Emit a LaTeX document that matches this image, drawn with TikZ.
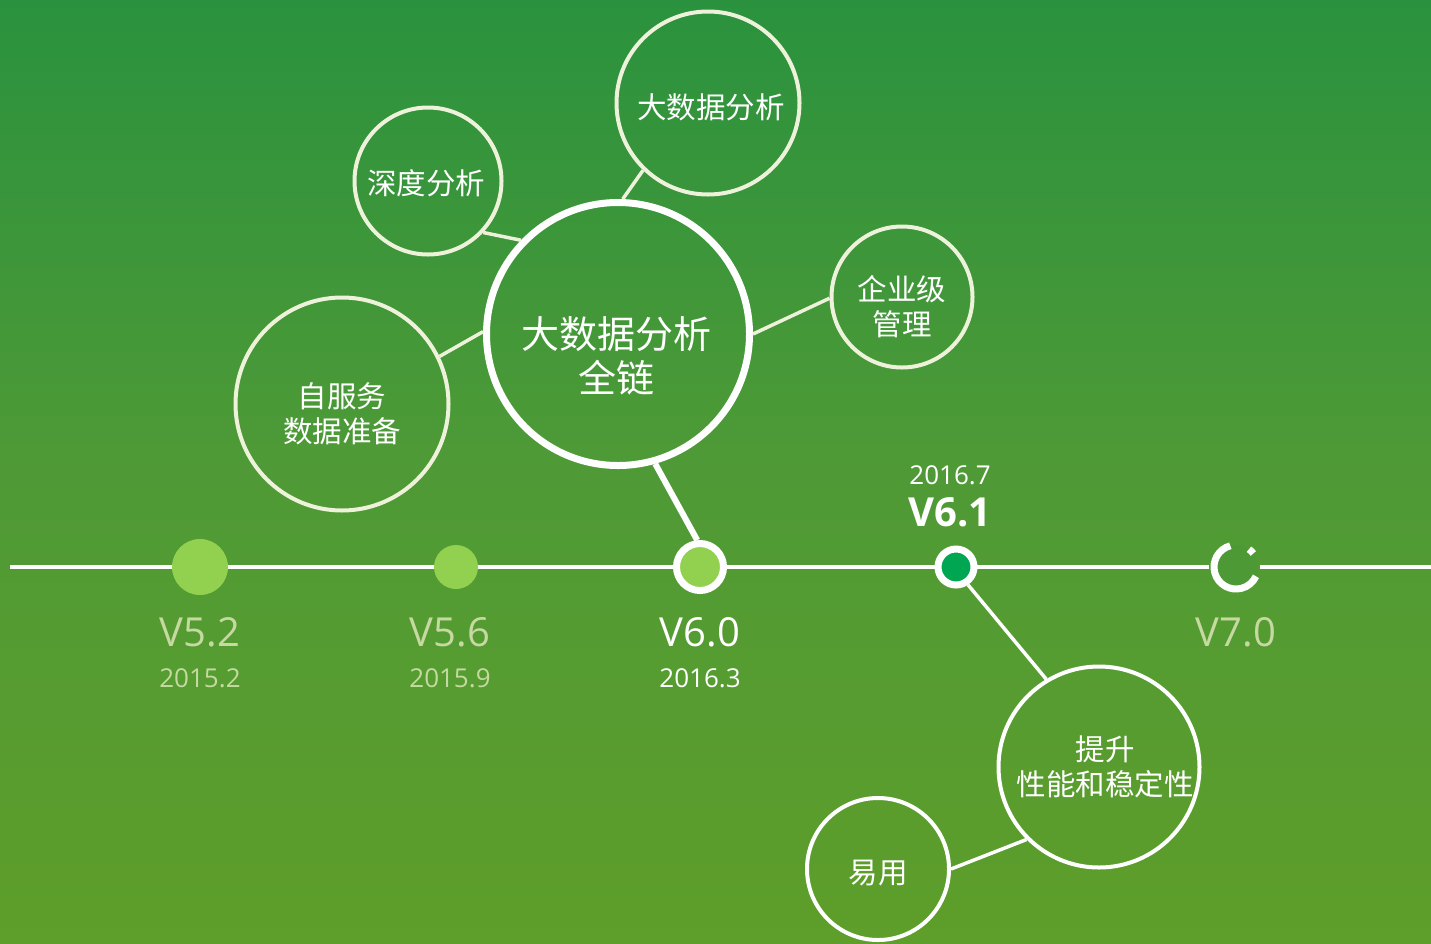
\documentclass[tikz,border=0pt]{standalone}
\usepackage{fontspec}
\setmainfont{Open Sans}
\newfontfamily\cjk{Noto Sans CJK SC}
\definecolor{bgtop}{HTML}{2A923E}
\definecolor{bgmid}{HTML}{4F9A36}
\definecolor{bgbot}{HTML}{5E9E2A}
\definecolor{offw}{HTML}{EEF2DA}
\definecolor{pale}{HTML}{C5D9A0}
\definecolor{lgreen}{HTML}{92D050}
\definecolor{dgreen}{HTML}{00A651}
\definecolor{ringbg}{HTML}{4C9936}
\begin{document}
\begin{tikzpicture}[x=1pt,y=-1pt,
  bub/.style={circle, draw=offw, line width=4pt, inner sep=0pt},
  wbub/.style={circle, draw=white, line width=4pt, inner sep=0pt},
  ctext/.style={text=white, font=\cjk\fontsize{29.5}{35}\selectfont, align=center, inner sep=0pt},
  btext/.style={text=white, font=\cjk\fontsize{38}{44}\selectfont, align=center, inner sep=0pt},
  conn/.style={draw=offw, line width=3.5pt},
  wconn/.style={draw=white, line width=3.5pt},
  ver/.style={font=\fontsize{40}{44}\selectfont, inner sep=0pt},
  date/.style={font=\fontsize{26}{30}\selectfont, inner sep=0pt},
  tl/.style={draw=white, line width=4pt}]
\shade[top color=bgtop, bottom color=bgbot, middle color=bgmid] (0,0) rectangle (1431,943);
\useasboundingbox (0,0) rectangle (1431,943);

% timeline
\coordinate (tlL) at (10,567);
\coordinate (tlR) at (1431,567);
\coordinate (r7L) at (1209,567);
\coordinate (r7R) at (1260,567);
\draw[tl] (tlL) -- (r7L);
\draw[tl] (r7R) -- (tlR);

% version dots
\node[circle, fill=lgreen, minimum size=56pt, inner sep=0pt] (v52) at (200,567) {};
\node[circle, fill=lgreen, minimum size=44pt, inner sep=0pt] (v56) at (456,567) {};
\node[circle, fill=lgreen, draw=white, line width=7pt, minimum size=47pt, inner sep=0pt] (v60) at (700,567) {};
\node[circle, fill=dgreen, draw=white, line width=7pt, minimum size=36pt, inner sep=0pt] (v61) at (956,567) {};
\node[circle, fill=ringbg, minimum size=44pt, inner sep=0pt] (v70) at (1236,567) {};
\draw[white, line width=7pt] (v70.center) ++(-105:22) arc[start angle=-105, end angle=-335, radius=22];
\draw[white, line width=7pt] (v70.center) ++(-38:22) arc[start angle=-38, end angle=-54, radius=22];

% version labels
\node[ver, text=pale] (l52) at (200,632) {V5.2};
\node[date, text=pale] (d52) at (200,678) {2015.2};
\node[ver, text=pale] (l56) at (450,632) {V5.6};
\node[date, text=pale] (d56) at (450,678) {2015.9};
\node[ver, text=white] (l60) at (700,632) {V6.0};
\node[date, text=white] (d60) at (700,678) {2016.3};
\node[date, text=white] (d61) at (950,475) {2016.7};
\node[ver, text=white, font=\bfseries\fontsize{40}{44}\selectfont] (l61) at (950,512) {V6.1};
\node[ver, text=pale] (l70) at (1236,632) {V7.0};

% bubbles
\node[circle, draw=white, line width=7pt, inner sep=0pt, minimum size=263pt,
  label={[btext, yshift=-22pt, xshift=-2pt]center:大数据分析\\全链}] (big) at (618,334) {};
\node[bub, minimum size=183pt, label={[ctext, yshift=-4pt, xshift=3pt]center:大数据分析}] (bda) at (708,103) {};
\node[bub, minimum size=147pt, label={[ctext, yshift=-2pt, xshift=-2pt]center:深度分析}] (sd) at (428,181) {};
\node[bub, minimum size=141pt, label={[ctext, yshift=-10pt]center:企业级\\管理}] (qy) at (902,297) {};
\node[bub, minimum size=213pt, label={[ctext, yshift=-10pt]center:自服务\\数据准备}] (zf) at (342,404) {};
\node[wbub, minimum size=201pt, label={[ctext, xshift=6pt]center:提升\\性能和稳定性}] (ts) at (1099,767) {};
\node[wbub, minimum size=142pt, label={[ctext, yshift=-4pt]center:易用}] (yy) at (878,869) {};

% connectors
\draw[conn] (big.88) -- (bda.226);
\draw[conn] (sd.317) -- (big.136);
\draw[conn] (big.0) -- (qy.181);
\draw[conn] (zf.26) -- (big.179);
\draw[draw=white, line width=6pt] (big.286) -- (v60.96);
\draw[wconn] (v61.304) -- (ts.121);
\draw[wconn] (ts.225) -- (yy.0);
\end{tikzpicture}
\end{document}
